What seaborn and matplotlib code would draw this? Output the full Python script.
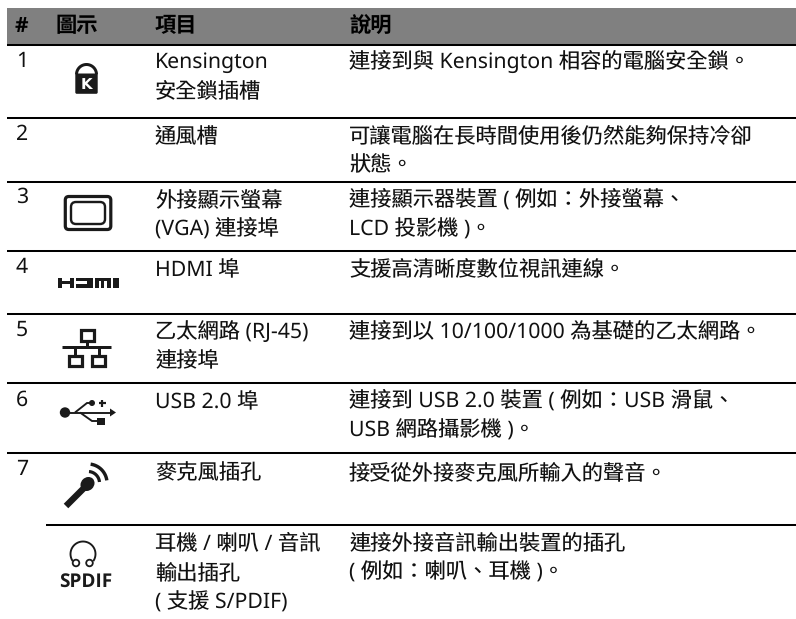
import numpy as np
import pandas as pd
import matplotlib
matplotlib.use("Agg")
import matplotlib.pyplot as plt
from matplotlib.patches import Rectangle, FancyBboxPatch, Circle, Ellipse, Polygon
import seaborn as sns

# ---- table content -------------------------------------------------------
headers = ["#", "圖示", "項目", "說明"]
numbers = ["1", "2", "3", "4", "5", "6", "7"]
items = [
    ["Kensington", "安全鎖插槽"],
    ["通風槽"],
    ["外接顯示螢幕", "(VGA) 連接埠"],
    ["HDMI 埠"],
    ["乙太網路 (RJ-45)", "連接埠"],
    ["USB 2.0 埠"],
    ["麥克風插孔"],
    ["耳機 / 喇叭 / 音訊", "輸出插孔", "( 支援 S/PDIF)"],
]
descriptions = [
    ["連接到與 Kensington 相容的電腦安全鎖。"],
    ["可讓電腦在長時間使用後仍然能夠保持冷卻", "狀態。"],
    ["連接顯示器裝置 ( 例如：外接螢幕、", "LCD 投影機 )。"],
    ["支援高清晰度數位視訊連線。"],
    ["連接到以 10/100/1000 為基礎的乙太網路。"],
    ["連接到 USB 2.0 裝置 ( 例如：USB 滑鼠、", "USB 網路攝影機 )。"],
    ["接受從外接麥克風所輸入的聲音。"],
    ["連接外接音訊輸出裝置的插孔", "( 例如：喇叭、耳機 )。"],
]

# ---- layout (pixels, y down) --------------------------------------------
W, H = 796, 619
COL_X = [15, 56, 155, 349]
HEAD_BASE = 32
NUM_BASE = [67, 140, 203, 273, 336, 406, 475]
ROW_BASE = [[68, 97], [143, 171], [207, 236], [276], [338, 367], [408, 437], [479], [549, 579, 609]]
DESC_BASE = [[68], [143, 171], [207, 236], [276], [338], [408, 437], [479], [549, 579]]
RULE_Y = [44.5, 118, 182, 251, 314, 383, 453, 525]
RULE_X0 = [7, 7, 7, 7, 7, 7, 7, 46]

sns.set_theme(style="white")
BODY_FONT = ["Noto Sans", "Noto Sans CJK TC", "DejaVu Sans"]
BOLD_FONT = ["Open Sans", "Noto Sans CJK TC", "DejaVu Sans"]
plt.rcParams["font.family"] = BODY_FONT
plt.rcParams["text.hinting"] = "no_hinting"
plt.rcParams["text.hinting_factor"] = 1

fig = plt.figure(figsize=(W / 100, H / 100), dpi=100, facecolor="white")
ax = fig.add_axes([0, 0, 1, 1])

# header band and rules
ax.add_patch(Rectangle((7, 8), W - 7, 36, facecolor="#808080", edgecolor="none"))
rules = pd.DataFrame(
    [{"x": x, "y": y, "rule": i} for i, (x0, y) in enumerate(zip(RULE_X0, RULE_Y)) for x in (x0, W)]
)
sns.lineplot(data=rules, x="x", y="y", units="rule", estimator=None, color="black",
             linewidth=1.45, ax=ax, legend=False, solid_capstyle="butt")
ax.set_xlim(0, W)
ax.set_ylim(H, 0)
ax.axis("off")

FS = 15.3
INK = "#111111"
for x, t in zip(COL_X, headers):
    ax.text(x, HEAD_BASE, t, fontsize=FS, fontweight="bold", color="black", va="baseline",
            family=BOLD_FONT)
for y, t in zip(NUM_BASE, numbers):
    ax.text(16, y, t, fontsize=FS, color=INK, va="baseline")
for lines, bases in zip(items, ROW_BASE):
    for t, y in zip(lines, bases):
        ax.text(COL_X[2], y, t, fontsize=FS, color=INK, va="baseline")
for lines, bases in zip(descriptions, DESC_BASE):
    for t, y in zip(lines, bases):
        ax.text(COL_X[3], y, t, fontsize=FS, color=INK, va="baseline")

# ---- icons ---------------------------------------------------------------
K = "#1a1a1a"
def line(xs, ys, lw=1.5, cap="butt"):
    ax.plot(xs, ys, color=K, lw=lw * 0.72, solid_capstyle=cap, solid_joinstyle="miter")

def arc(cx, cy, r, a0, a1, lw):
    t = np.radians(np.linspace(a0, a1, 40))
    line(cx + r * np.cos(t), cy - r * np.sin(t), lw)

def rects(lst):
    for x, y, w, h in lst:
        ax.add_patch(Rectangle((x, y), w, h, fc=K, ec="none"))

# Kensington lock
arc(86.5, 74.5, 10, 0, 180, 3)
ax.add_patch(FancyBboxPatch((75.3, 73.5), 22.4, 20.3, boxstyle="round,pad=0,rounding_size=1.5",
                            fc=K, ec="none"))
ax.text(86.5, 89, "K", fontsize=11, fontweight="bold", color="white", ha="center", va="baseline",
        family="DejaVu Sans")

# VGA port
ax.add_patch(FancyBboxPatch((65.3, 196.5), 45.5, 33, boxstyle="round,pad=0,rounding_size=3.5",
                            fc="none", ec=K, lw=3.2 * 0.72))
ax.add_patch(FancyBboxPatch((71, 202), 34, 22, boxstyle="round,pad=0,rounding_size=5",
                            fc="none", ec=K, lw=2.4 * 0.72))

# HDMI logo
rects([(57.5, 277.5, 4.4, 10), (69.5, 277.5, 4.4, 10), (60, 281, 11, 3.2),       # H
       (75.5, 277.5, 13, 3.2), (75.5, 284.3, 13, 3.2), (87, 277.5, 5.5, 10),      # D
       (94.5, 277.5, 4.2, 10), (94.5, 277.5, 16.5, 3.2), (100.8, 277.5, 3.4, 10), (106.8, 277.5, 4.2, 10),  # M
       (113, 277.5, 6, 10)])                                                       # I

# network
for x0, y0, w, h in [(80.5, 329.5, 13, 11), (68.5, 355.5, 13, 10.5), (92, 355.5, 13, 10.5)]:
    ax.add_patch(Rectangle((x0, y0), w, h, fc="none", ec=K, lw=3.2 * 0.72))
line([62, 111], [346.5, 346.5], 3.0)
line([87, 87], [340, 346], 3.0)
line([75, 75], [346, 355], 3.0)
line([98.5, 98.5], [346, 355], 3.0)

# USB
ax.add_patch(Circle((65, 412.5), 5.2, fc=K, ec="none"))
line([65, 112], [412.5, 412.5], 1.9)
line([75, 87, 92], [412.5, 403, 403], 1.9)
line([80, 92, 97], [412.5, 421, 421], 1.9)
ax.add_patch(Circle((92, 403), 3, fc=K, ec="none"))
line([99, 105.5], [403, 403], 2.2)
line([102.2, 102.2], [399.5, 406.5], 2.2)
ax.add_patch(Rectangle((97, 418), 7.5, 6.5, fc=K, ec="none"))
ax.add_patch(Polygon([(110, 408.5), (116, 412.5), (110, 416.5)], fc=K, ec="none"))

# microphone
line([66, 84], [506, 488], 6.4)
ax.add_patch(Ellipse((87.5, 484), 13, 15, angle=45, fc=K, ec="none"))
arc(88, 483, 11.5, 5, 85, 3.2)
arc(88, 483, 19, 8, 82, 3.4)

# headphones
arc(83, 554, 12.5, -35, 215, 1.9)
ax.add_patch(Circle((76, 563), 3.3, fc="none", ec=K, lw=1.8 * 0.72))
ax.add_patch(Circle((89.5, 563), 3.3, fc="none", ec=K, lw=1.8 * 0.72))
ax.text(86, 587, "SPDIF", fontsize=13.8, fontweight="bold", color=K, ha="center", va="baseline",
        family=BOLD_FONT)

fig.savefig("out.png", dpi=100, facecolor="white")
